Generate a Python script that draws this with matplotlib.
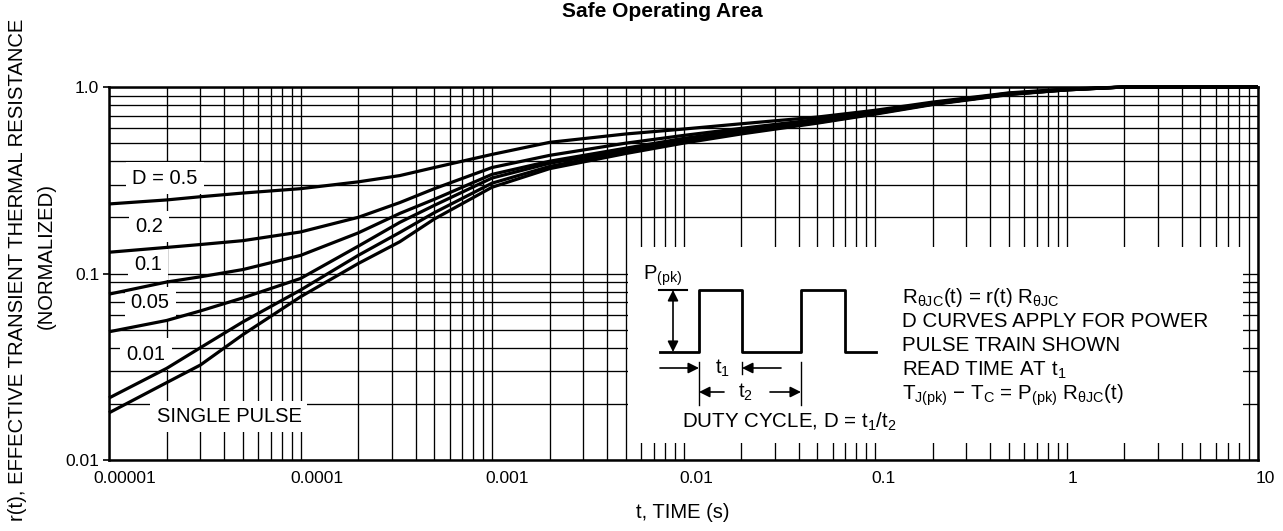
import matplotlib
matplotlib.use('Agg')
import matplotlib.pyplot as plt
import matplotlib.transforms as mtransforms
from matplotlib.ticker import LogLocator, NullFormatter

plt.rcParams['font.family'] = ['Liberation Sans', 'DejaVu Sans']

# Time points (s).
t = [1e-5, 2e-5, 3e-5, 5e-5, 1e-4, 2e-4, 3.3e-4, 5e-4, 1e-3, 2e-3, 5e-3,
     1e-2, 2e-2, 5e-2, 0.1, 0.2, 0.5, 1, 2, 5, 10]

# Normalized transient thermal resistance for each duty cycle.
r_d05 = [0.236, 0.248, 0.258, 0.27, 0.285, 0.31, 0.335, 0.37, 0.435, 0.505, 0.56,
         0.595, 0.635, 0.69, 0.75, 0.83, 0.93, 0.975, 1.0, 1.0, 1.0]
r_d02 = [0.130, 0.138, 0.143, 0.15, 0.167, 0.20, 0.24, 0.285, 0.37, 0.43, 0.50,
         0.55, 0.60, 0.67, 0.74, 0.82, 0.925, 0.97, 1.0, 1.0, 1.0]
r_d01 = [0.0775, 0.090, 0.096, 0.105, 0.125, 0.165, 0.21, 0.25, 0.34, 0.40, 0.47,
         0.53, 0.585, 0.655, 0.73, 0.815, 0.92, 0.97, 1.0, 1.0, 1.0]
r_d005 = [0.0487, 0.056, 0.063, 0.074, 0.094, 0.14, 0.188, 0.232, 0.325, 0.39, 0.46,
          0.52, 0.575, 0.65, 0.725, 0.81, 0.915, 0.965, 1.0, 1.0, 1.0]
r_d001 = [0.0215, 0.031, 0.040, 0.055, 0.0815, 0.125, 0.166, 0.212, 0.305, 0.375, 0.45,
          0.51, 0.57, 0.645, 0.72, 0.81, 0.915, 0.965, 1.0, 1.0, 1.0]
r_single = [0.0179, 0.026, 0.0323, 0.047, 0.075, 0.113, 0.148, 0.196, 0.29, 0.365, 0.44,
            0.50, 0.56, 0.64, 0.715, 0.805, 0.91, 0.965, 1.0, 1.0, 1.0]

curves = [r_d05, r_d02, r_d01, r_d005, r_d001, r_single]
curve_labels = ['D = 0.5', '0.2', '0.1', '0.05', '0.01', 'SINGLE PULSE']
label_pos = [(1.96e-5, 0.325), (1.62e-5, 0.178), (1.6e-5, 0.112),
             (1.64e-5, 0.0695), (1.56e-5, 0.037), (4.23e-5, 0.0172)]

x_ticks = [1e-5, 1e-4, 1e-3, 1e-2, 1e-1, 1, 10]
x_tick_labels = ['0.00001', '0.0001', '0.001', '0.01', '0.1', '1', '10']
y_ticks = [0.01, 0.1, 1.0]
y_tick_labels = ['0.01', '0.1', '1.0']

fig = plt.figure(figsize=(12.83, 5.31), dpi=100)
ax = fig.add_axes([109 / 1283, 71 / 531, 1149 / 1283, 373 / 531])

for r in curves:
    ax.plot(t, r, color='black', linewidth=2.3, zorder=4, clip_on=False,
            solid_capstyle='butt', solid_joinstyle='round')

for lab, (lx, ly) in zip(curve_labels, label_pos):
    ax.text(lx, ly, lab, fontsize=14.5, ha='center', va='center', zorder=3,
            bbox=dict(boxstyle='square,pad=0.3', facecolor='white', edgecolor='none'))

ax.set_xscale('log')
ax.set_yscale('log')
ax.set_xlim(1e-5, 10)
ax.set_ylim(0.01, 1.0)
ax.set_xticks(x_ticks)
ax.set_xticklabels(x_tick_labels)
ax.set_yticks(y_ticks)
ax.set_yticklabels(y_tick_labels)
ax.xaxis.set_minor_locator(LogLocator(base=10, subs=range(2, 10), numticks=20))
ax.yaxis.set_minor_locator(LogLocator(base=10, subs=range(2, 10), numticks=20))
ax.xaxis.set_minor_formatter(NullFormatter())
ax.yaxis.set_minor_formatter(NullFormatter())
ax.tick_params(which='both', direction='out', labelsize=12.5)
ax.tick_params(axis='x', which='both', length=0, pad=8)
ax.tick_params(axis='y', which='major', length=4, width=1.2, pad=3)
ax.tick_params(axis='y', which='minor', length=0)
ax.grid(True, which='both', color='black', linewidth=0.95)
ax.set_axisbelow(True)
for s in ax.spines.values():
    s.set_linewidth(1.8)

# the x tick labels sit a little right of their grid lines in the original
shifts = [16, 16, 15, 13, 8, 6, 7]
for lbl, dx in zip(ax.get_xticklabels(), shifts):
    lbl.set_transform(lbl.get_transform() + mtransforms.ScaledTranslation(dx / 100, 0, fig.dpi_scale_trans))

# Inset with pulse train diagram (drawn in pixel-like units).
ins = ax.inset_axes([(628 - 109) / 1149, (460 - 443) / 373, 615 / 1149, 196 / 373])
ins.set_xlim(628, 1243)
ins.set_ylim(443, 247)
ins.set_xticks([])
ins.set_yticks([])
for s in ins.spines.values():
    s.set_visible(False)
ins.set_facecolor('white')
ins.set_zorder(5)

px = [660, 699, 699, 742, 742, 801, 801, 845, 845, 876]
py = [352, 352, 290, 290, 352, 352, 290, 290, 352, 352]
ins.plot(px, py, color='black', linewidth=2.0)
ins.plot([659, 687], [290, 290], color='black', linewidth=1.5)
arrow = dict(color='black', lw=1.2, mutation_scale=16, shrinkA=0, shrinkB=0)
ins.annotate('', xy=(673, 290), xytext=(673, 352), arrowprops=dict(arrowstyle='<|-|>', **arrow))
ins.text(643, 280, r'P$_{\mathregular{(pk)}}$', fontsize=14.5, ha='left', va='baseline')

# extension lines
ins.plot([699, 699], [362, 405], color='black', linewidth=1.0)
ins.plot([742, 742], [362, 374], color='black', linewidth=1.0)
ins.plot([801, 801], [362, 405], color='black', linewidth=1.0)
# t1 arrows
ins.annotate('', xy=(699, 368), xytext=(660, 368), arrowprops=dict(arrowstyle='-|>', **arrow))
ins.annotate('', xy=(742, 368), xytext=(781, 368), arrowprops=dict(arrowstyle='-|>', **arrow))
ins.text(723, 368, r't$_{\mathregular{1}}$', fontsize=14.5, ha='center', va='center')
# t2 arrows
ins.annotate('', xy=(699, 392), xytext=(724, 392), arrowprops=dict(arrowstyle='-|>', **arrow))
ins.annotate('', xy=(801, 392), xytext=(770, 392), arrowprops=dict(arrowstyle='-|>', **arrow))
ins.text(745, 392, r't$_{\mathregular{2}}$', fontsize=14.5, ha='center', va='center')
ins.text(682, 422, r'DUTY CYCLE, D = t$_{\mathregular{1}}$/t$_{\mathregular{2}}$',
         fontsize=14.8, ha='left', va='center')

notes = [r'R$_{\mathregular{θJC}}$(t) = r(t) R$_{\mathregular{θJC}}$',
         'D CURVES APPLY FOR POWER',
         'PULSE TRAIN SHOWN',
         r'READ TIME AT t$_{\mathregular{1}}$',
         r'T$_{\mathregular{J(pk)}}$ − T$_{\mathregular{C}}$ = P$_{\mathregular{(pk)}}$ R$_{\mathregular{θJC}}$(t)']
for i, line in enumerate(notes):
    ins.text(902, 303 + i * 24.2, line, fontsize=14.8, ha='left', va='baseline')

fig.text(662 / 1283, 1 - 17 / 531, 'Safe Operating Area', fontsize=15,
         fontweight='bold', ha='center', va='baseline')
fig.text(683 / 1283, 1 - 512 / 531, 't, TIME (s)', fontsize=14.5, ha='center', va='center')
fig.text(18 / 1283, 1 - 270 / 531, 'r(t), EFFECTIVE TRANSIENT THERMAL RESISTANCE',
         fontsize=14.6, rotation=90, ha='center', va='center')
fig.text(46 / 1283, 1 - 256 / 531, '(NORMALIZED)', fontsize=14.6, rotation=90,
         ha='center', va='center')

fig.savefig('out.png', dpi=100)
